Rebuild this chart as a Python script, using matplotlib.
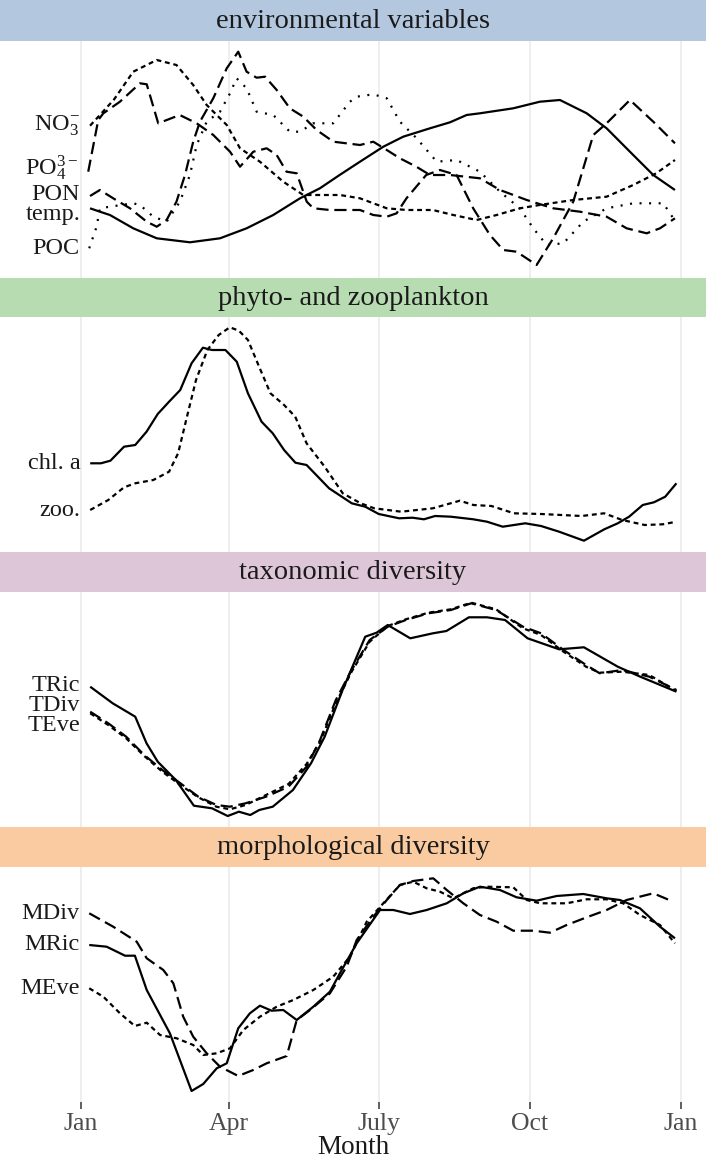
import matplotlib
matplotlib.use('Agg')
import matplotlib.pyplot as plt

plt.rcParams['font.family'] = ['Liberation Serif', 'DejaVu Serif']
plt.rcParams['mathtext.fontset'] = 'custom'
plt.rcParams['mathtext.rm'] = 'Liberation Serif'
plt.rcParams['mathtext.it'] = 'Liberation Serif:italic'

# ---------------- data (x = day of year, y = relative level within panel) ----------------
month_ticks = [0, 90, 181, 273, 365]
month_labels = ['Jan', 'Apr', 'July', 'Oct', 'Jan']

# environmental variables
temp_x = [5.4, 11.4, 17.5, 31.7, 46, 66.2, 84.5, 100.7, 116.9, 133.2, 145.3, 157.3, 169.7, 183.9, 196,
          212.3, 224.5, 234.6, 242.7, 263, 279.2, 291.4, 307.7, 319.8, 336, 348.2, 361.4]
temp_y = [69.2, 65.8, 62.5, 49.2, 39.2, 35.2, 39.2, 49.2, 62.5, 79.2, 89.2, 102.5, 115.8, 130.8, 140.8,
          149.2, 155.2, 162.5, 164.2, 169.2, 175.8, 177.5, 164.2, 149.2, 122.5, 102.5, 87.5]

no3_x = [5.4, 11.4, 20, 31.7, 46, 58, 68.2, 76.4, 88.6, 96.7, 108.8, 123, 135.2, 157.5, 169.7, 186, 198,
         214, 226.5, 240.7, 252.9, 267, 279, 299.5, 319.8, 336, 350, 361.4]
no3_y = [151.8, 162.5, 178, 205.8, 217.5, 212.5, 192.5, 172.5, 152.5, 129.2, 115.8, 95.8, 82.5, 82.5, 79.2,
         69.2, 67.5, 67.5, 62.5, 57.5, 62.5, 69.2, 72.5, 77.5, 80.8, 92.5, 104.2, 117.5]

po4_x = [4.3, 10.4, 13.5, 23.6, 35.8, 39.9, 46.9, 60, 70.3, 80.4, 90.6, 96.7, 104.8, 112.9, 119, 125, 131.2,
         137.3, 141.3, 151.4, 169.7, 177.8, 186, 192, 198, 210, 218.4, 228.5, 238.6, 248.8, 256.9, 265,
         277.2, 287.3, 299.5, 311.7, 319.8, 334, 348.2, 361.4]
po4_y = [105.8, 157.5, 164.2, 175.8, 194.2, 193.2, 154.2, 162.5, 154.2, 142.5, 125.8, 110.8, 125.8, 129.2,
         122.5, 105.8, 104.2, 75.8, 69.2, 67.5, 67.5, 62.5, 60.8, 64.2, 79.2, 102.5, 107.5, 102.5, 69.2,
         42.5, 27.5, 25.8, 12.5, 39.2, 75.8, 142.5, 154.2, 177.5, 155.8, 134.2]

pon_x = [5.4, 11.4, 19.5, 29.7, 39.9, 46, 52, 58, 63.2, 68.2, 72.3, 80.4, 88.6, 95.6, 100.7, 106.8, 111.9,
         119, 127, 135.2, 143.3, 153.5, 169.7, 177.8, 186, 194, 204, 212.3, 224.5, 242.7, 254.9, 271.2,
         287.3, 303.6, 319.8, 332, 344.2, 352.3, 361.4]
pon_y = [81.5, 87.5, 79.2, 69.2, 55.8, 50.8, 57.5, 75.8, 102.5, 135.8, 155.8, 179.2, 209.2, 225.8, 205.8,
         199.8, 200.8, 187.5, 169.2, 160.8, 147.5, 135.8, 132.5, 135.8, 127.5, 119.2, 110.8, 102.5, 102.5,
         99.2, 87.5, 77.5, 69.2, 65.8, 60.8, 49.2, 44.2, 49.2, 59.2]

poc_x = [4.9, 9.4, 11.4, 17.5, 31.7, 35.8, 43.9, 52, 60.1, 66.2, 70.3, 76.4, 84.5, 90.6, 94.6, 100.7, 106.8,
         116.9, 127, 133.2, 141.3, 153.4, 163.6, 167.7, 177.8, 186, 194, 204.2, 216.4, 228.5, 242.7, 254.9,
         267, 275.2, 283.3, 293.5, 305.6, 319.8, 336, 354.3, 360.4]
poc_y = [29.2, 50.8, 69.2, 70.8, 74.2, 72.5, 60.8, 55.8, 75.8, 102.5, 132.5, 155.8, 165.8, 184.2, 199.2,
         189.2, 165.8, 162.5, 145.8, 145.8, 154.2, 154.2, 175.8, 180.8, 183.2, 179.2, 155.8, 139.2, 115.8,
         117.5, 105.8, 85.8, 69.2, 49.2, 32.5, 34.2, 55.8, 69.2, 74.2, 74.2, 59.2]

# phyto- and zooplankton
chl_x = [5.5, 12, 17.8, 26.1, 32.9, 39.8, 46.6, 53.5, 60.3, 67.2, 74.1, 79.6, 87.8, 94.7, 101.5, 109.8, 116.6,
         123.5, 130.4, 137.2, 150.9, 164.7, 172.9, 181.1, 193.5, 201.7, 208.6, 215.4, 225, 238.7, 247, 256.6,
         270.3, 279.9, 290.9, 306, 318.4, 326.6, 333.5, 341.8, 348.6, 355.5, 362.3]
chl_y = [88.4, 88.4, 91, 105, 106.7, 120, 137.7, 150, 161.7, 188.4, 204, 201.7, 201.7, 190, 158.4, 130, 118.4,
         101.7, 89, 86.7, 63.4, 48.4, 45, 37.7, 33.4, 34, 32.4, 35.7, 35, 32.4, 30, 25, 28.4, 25.7, 20, 11,
         22.4, 28.4, 35, 46.7, 49.4, 55, 68.4]

zoo_x = [5.5, 16.5, 26.1, 32.9, 43.9, 53.5, 59, 64.4, 69.9, 76.8, 83.7, 90.5, 96, 101.5, 108.3, 115.2, 123.5,
         130.3, 137.2, 148.2, 159.2, 170.1, 178.4, 194.8, 214, 230.5, 238.7, 249.7, 263.4, 279.9, 304.6,
         318.3, 329.3, 343, 354, 362.3]
zoo_y = [41.7, 51.7, 64.4, 68.4, 71.7, 80, 98.4, 135, 171.7, 201.7, 216.7, 224.4, 221, 211.7, 185, 158.4,
         146.7, 135, 108.4, 85, 58.4, 48.4, 43.4, 40, 43.4, 51, 46.7, 45.7, 38.4, 37.7, 35.7, 38.4, 31.7,
         26.7, 27.4, 30]

# taxonomic diversity
tric_x = [5.5, 19.2, 32.9, 39.8, 46.6, 57.6, 68.6, 79.6, 89.2, 96, 102.9, 108.4, 116.6, 128.9, 139.9, 148.2,
          159.1, 172.9, 179.8, 186.6, 200.3, 214.1, 222.3, 236, 247, 258, 271.7, 290.9, 306, 326.6, 340.3, 362.3]
tric_y = [140, 123.4, 110, 83.4, 65, 46.7, 21, 18.4, 10.7, 15, 11.7, 16.7, 20, 36.7, 63.4, 90, 136.7, 190,
          194, 201.7, 188.4, 193.4, 195.7, 209.4, 209.4, 206.7, 188.4, 177.4, 179.4, 160, 150, 135]

tdiv_x = [5.5, 16.5, 27.4, 38.4, 49.4, 60.4, 71.3, 82.3, 90.5, 100.1, 112.5, 126.2, 137.2, 145.4, 155, 164.6,
          175.6, 186.6, 197.6, 211.3, 225, 237.4, 252.5, 268.9, 279.9, 293.6, 307.3, 315.6, 329.3, 345.8, 362.3]
tdiv_y = [115, 103.4, 90, 71.7, 56.7, 43.4, 30, 21.7, 20, 23.4, 30, 40, 60, 86.7, 126.7, 156.7, 186.7, 200,
          206.7, 213.4, 216.7, 223.4, 216.7, 200, 193.4, 176.7, 161.7, 153.4, 156.7, 150, 136.7]

teve_x = [5.5, 16.5, 27.4, 38.4, 49.4, 60.4, 71.3, 82.3, 90.5, 100.1, 112.5, 126.2, 137.2, 145.4, 155, 164.6,
          175.6, 186.6, 197.6, 211.3, 225, 237.4, 252.5, 268.9, 279.9, 293.6, 307.3, 315.6, 329.3, 345.8, 362.3]
teve_y = [113.4, 101.7, 88.4, 70.7, 55, 41.7, 29.4, 20, 17.4, 21.7, 31.7, 42.7, 62.7, 85, 123.4, 155, 185,
          200.7, 207.4, 214, 217.4, 224, 217.4, 198.4, 191.7, 175, 160, 154, 155, 151.7, 135.7]

# morphological diversity
mdiv_x = [4.9, 19.5, 33.8, 39.9, 50, 56.1, 62.1, 68.2, 76.4, 84.5, 95.6, 104.7, 112.9, 125.1, 131.2, 139.3,
          151.4, 161.6, 167.7, 177.8, 186, 194, 202.1, 214.3, 222.5, 232.6, 242.7, 252.9, 263, 275.2, 285.3,
          295.5, 307.7, 319.8, 332, 348.2, 360.4]
mdiv_y = [188.4, 175, 160, 143.4, 131.7, 118.4, 85, 65, 48.4, 35, 25.7, 31.7, 38.4, 45.7, 81.7, 91.7, 108.4,
          135, 161.7, 185, 201.7, 216.7, 220.7, 223.4, 211.7, 198.4, 186.7, 180, 171, 171, 169, 176.7, 184.4,
          191.7, 201.7, 208.4, 200]

mric_x = [4.9, 15.5, 26.7, 32.7, 39.9, 54, 67.2, 74.3, 82.5, 88.6, 95.6, 102.7, 108.8, 115.9, 123, 131.2,
          141.3, 151.4, 157.5, 167.7, 181.9, 190, 200.1, 210.3, 222.5, 232.6, 242.7, 254.9, 265, 277.2, 289.4,
          305.6, 319.8, 327.9, 340.1, 352.3, 361.4]
mric_y = [156.7, 155, 146, 146, 111.7, 68.4, 10.7, 17.7, 33.4, 38.4, 73.4, 88.4, 96, 91, 91.7, 81.7, 95,
          110, 128.4, 158.4, 191.7, 191.7, 187.7, 191.7, 198.4, 208.4, 215, 211.7, 204.4, 201, 205.7, 207.7,
          203.4, 201.7, 193.4, 175, 163.4]

meve_x = [4.9, 13.5, 23.6, 32.7, 39.9, 48, 58.1, 68.2, 74.3, 82.5, 90.6, 98.7, 108.8, 119, 129.1, 141.3,
          153.4, 163.6, 173.8, 183.9, 194, 202.1, 210.3, 218.4, 226.5, 238.6, 246.8, 263, 271.2, 279.3, 295.5,
          307.7, 319.8, 329.9, 340.1, 352.3, 361.4]
meve_y = [113.4, 105, 88.4, 75.7, 79, 66.7, 63.4, 56.7, 46.7, 48.4, 53.4, 71.7, 85, 95, 101.7, 111.7, 125,
          145, 180, 198.4, 216.7, 220, 213.4, 210, 203.4, 213.4, 215, 214.4, 201.7, 198.4, 198.4, 202.4,
          202.4, 198.4, 186.7, 176.7, 158.4]

# ---------------- styles / layout ----------------
SOLID = '-'
LONG = (0, (5.5, 2.6))
SHORT = (0, (2.2, 1.7))
DOT = (0, (0.9, 3.4))

panels = [
    dict(title='environmental variables', color='#B3C7DE', strip=(0, 41), axes=(41, 277.5),
         series=[(r'NO$_{\mathrm{3}}^{\mathrm{-}}$', no3_x, no3_y, SHORT, 0),
                 (r'PO$_{\mathrm{4}}^{\mathrm{3-}}$', po4_x, po4_y, LONG, 3),
                 ('PON', pon_x, pon_y, LONG, 1),
                 ('temp.', temp_x, temp_y, SOLID, -6),
                 ('POC', poc_x, poc_y, DOT, 0)]),
    dict(title='phyto- and zooplankton', color='#B7DCB2', strip=(277.5, 316.7), axes=(316.7, 551.7),
         series=[('chl. a', chl_x, chl_y, SOLID, 0),
                 ('zoo.', zoo_x, zoo_y, SHORT, 0)]),
    dict(title='taxonomic diversity', color='#DEC6D9', strip=(551.7, 591.7), axes=(591.7, 826.7),
         series=[('TRic', tric_x, tric_y, SOLID, 1.7),
                 ('TDiv', tdiv_x, tdiv_y, LONG, 6.7),
                 ('TEve', teve_x, teve_y, SHORT, -11.7)]),
    dict(title='morphological diversity', color='#FACBA0', strip=(826.7, 866.7), axes=(866.7, 1101.7),
         series=[('MDiv', mdiv_x, mdiv_y, LONG, 0),
                 ('MRic', mric_x, mric_y, SOLID, 0),
                 ('MEve', meve_x, meve_y, SHORT, 0)]),
]

W, H = 706, 1160
fig = plt.figure(figsize=(W / 100, H / 100), dpi=100)
fig.patch.set_facecolor('white')


def rect(top, bottom):
    return [0, 1 - bottom / H, 1, (bottom - top) / H]


XMIN, XMAX = -49.4, 380.3
TXT = '#1A1A1A'
FS = 18.5
FS_LAB = 17.5
FS_STRIP = 20.5

for i, p in enumerate(panels):
    last = i == len(panels) - 1
    # strip
    sax = fig.add_axes(rect(*p['strip']))
    sax.set_facecolor(p['color'])
    sax.set_xticks([])
    sax.set_yticks([])
    for s in sax.spines.values():
        s.set_visible(False)
    sax.text(0.5, 0.47, p['title'], ha='center', va='center', fontsize=FS_STRIP, color=TXT,
             transform=sax.transAxes)

    top, bottom = p['axes']
    ax = fig.add_axes(rect(top, bottom))
    ax.set_xlim(XMIN, XMAX)
    ax.set_ylim(0, bottom - top)
    for s in ax.spines.values():
        s.set_visible(False)
    ax.set_yticks([])
    ax.set_xticks(month_ticks)
    ax.grid(axis='x', color='#EBEBEB', lw=1.2)
    ax.set_axisbelow(True)
    if last:
        ax.set_xticklabels(month_labels)
        ax.tick_params(axis='x', length=5, width=1.1, color='#333333', labelsize=FS,
                       labelcolor='#4D4D4D', pad=3)
    else:
        ax.tick_params(axis='x', length=0, labelbottom=False)

    for lab, xs, ys, ls, nudge in p['series']:
        ax.plot(xs, ys, color='black', lw=1.6, linestyle=ls, solid_capstyle='butt',
                dash_capstyle='butt')
        ax.text(xs[0] - 6, ys[0] + nudge, lab, ha='right', va='center', fontsize=FS_LAB, color=TXT)

fig.text(0.5, 1 - 1148 / H, 'Month', ha='center', va='center', fontsize=19.5, color=TXT)

fig.savefig('out.png', dpi=100)
